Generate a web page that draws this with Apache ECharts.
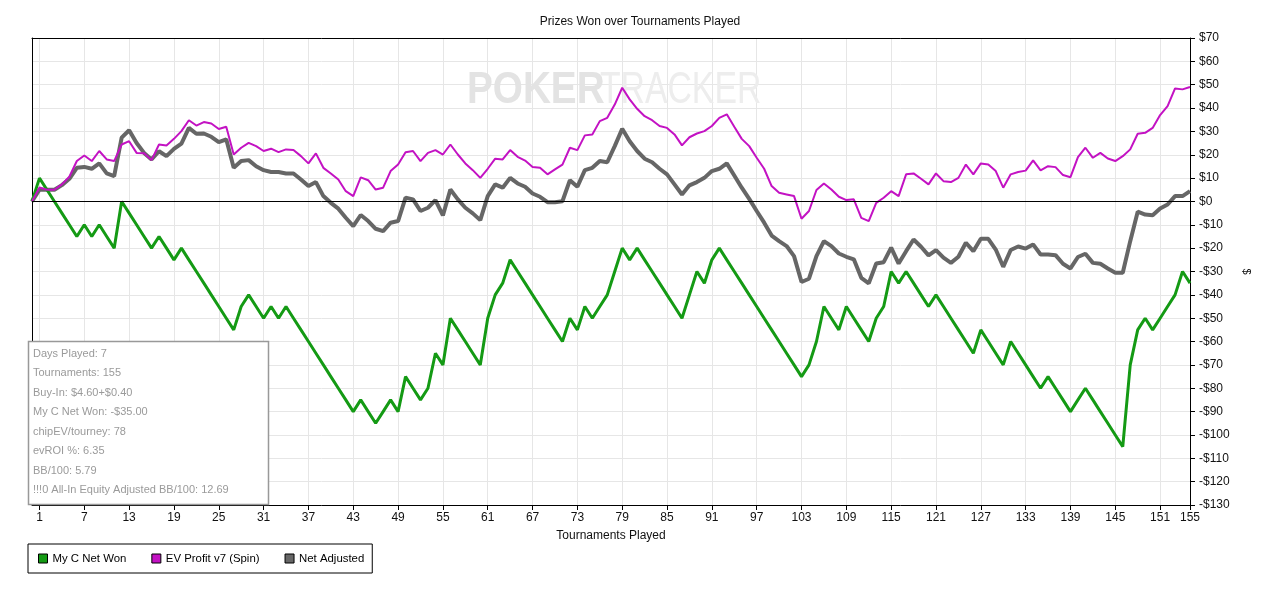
<!DOCTYPE html>
<html>
<head>
<meta charset="utf-8">
<title>Prizes Won over Tournaments Played</title>
<script src="https://cdn.jsdelivr.net/npm/echarts@6/dist/echarts.min.js"></script>
<style>
	html, body {margin: 0; padding: 0; background: #ffffff;}
	#chart {width: 1280px; height: 593px;}
</style>
</head>
<body>
<div id="chart"></div>
<script>
// tournament index 0..155 (0 = start point)
var tournaments = [];
for (var i = 0; i <= 155; i++) tournaments.push(String(i));

var netWon = [
	0, 10, 5, 0, -5, -10, -15, -10, -15, -10,
	-15, -20, 0, -5, -10, -15, -20, -15, -20, -25,
	-20, -25, -30, -35, -40, -45, -50, -55, -45, -40,
	-45, -50, -45, -50, -45, -50, -55, -60, -65, -70,
	-75, -80, -85, -90, -85, -90, -95, -90, -85, -90,
	-75, -80, -85, -80, -65, -70, -50, -55, -60, -65,
	-70, -50, -40, -35, -25, -30, -35, -40, -45, -50,
	-55, -60, -50, -55, -45, -50, -45, -40, -30, -20,
	-25, -20, -25, -30, -35, -40, -45, -50, -40, -30,
	-35, -25, -20, -25, -30, -35, -40, -45, -50, -55,
	-60, -65, -70, -75, -70, -60, -45, -50, -55, -45,
	-50, -55, -60, -50, -45, -30, -35, -30, -35, -40,
	-45, -40, -45, -50, -55, -60, -65, -55, -60, -65,
	-70, -60, -65, -70, -75, -80, -75, -80, -85, -90,
	-85, -80, -85, -90, -95, -100, -105, -70, -55, -50,
	-55, -50, -45, -40, -30, -35
];

var evProfit = [
	0, 6, 5, 5, 7.3, 10.6, 17.3, 19.7, 17.3, 21.6,
	18, 17.3, 24.4, 25.8, 20.8, 20.6, 17.7, 24.4, 24, 26.8,
	30.1, 34.8, 32.5, 34, 33.4, 31, 32, 20.1, 23, 25.1,
	23.7, 21.6, 22.6, 21.1, 22.3, 22, 19.4, 16.3, 20.6, 14.4,
	12, 9.4, 4.4, 2.3, 10.3, 9.1, 5.1, 5.9, 13, 15.8,
	21.1, 21.6, 17.3, 20.8, 22, 20.1, 24.4, 20.1, 16.3, 13.4,
	10.1, 14, 18.3, 18, 22, 19.1, 17.5, 14.8, 14.4, 11.6,
	13.7, 15.8, 23, 22, 28.3, 28.7, 34.4, 35.8, 41.5, 48.7,
	43.7, 39.7, 36.5, 34.8, 32.3, 31.5, 28.7, 24, 27.5, 29.1,
	30.1, 32.3, 35.8, 37.3, 32, 26.8, 23.7, 18.7, 14, 6.6,
	3.7, 3, 2.3, -7.4, -4.1, 4.9, 7.7, 5.1, 2, 0.6,
	0.9, -7, -8.4, -0.6, 1.6, 4.4, 2.3, 11.6, 12, 9.7,
	7.3, 12, 8.7, 8.3, 10.1, 15.8, 11.6, 16.3, 15.8, 13,
	5.9, 11.6, 12.6, 13.2, 17.6, 13.3, 15.1, 14.7, 11.3, 10.4,
	19, 23, 18.7, 20.8, 18.4, 17.3, 19.4, 22.3, 29, 29.4,
	31.5, 37, 40.8, 48.4, 48, 49
];

var netAdjusted = [
	0, 5, 5, 5, 7, 9.7, 14.4, 14.8, 14, 16.3,
	12, 10.8, 27.3, 30.5, 25, 20.8, 18, 21.5, 19.4, 22.5,
	24.8, 31.5, 29, 29.1, 27.7, 25.4, 26.6, 14.4, 17.3, 17.7,
	15.1, 13.4, 12.6, 12.6, 12, 12, 9.4, 6.6, 8.3, 2.3,
	-0.6, -3.1, -7, -10.6, -5.8, -8.4, -11.7, -12.7, -9.1, -8.4,
	1.6, 0.9, -4.1, -2.7, 0.6, -6, 5.1, 0.9, -2.7, -5.1,
	-8, 2.3, 7.3, 5.9, 10.1, 7.7, 6.3, 3.4, 2, -0.3,
	-0.3, 0.1, 9.1, 6.3, 13.4, 14.4, 17.3, 16.8, 23.7, 31.1,
	25.8, 21.6, 18.3, 16.8, 14, 11.6, 7.3, 3, 6.9, 8.3,
	10.1, 13, 14, 16.3, 11.1, 5.9, 1.1, -4.1, -9.1, -14.6,
	-17, -19.1, -23.4, -34.5, -33.1, -23.4, -17, -19.1, -22.3, -23.7,
	-24.8, -32.7, -35.1, -26.6, -26, -19.8, -26.6, -21.3, -16.3, -19.4,
	-23.1, -20.8, -24.1, -26.3, -23.7, -17.7, -21.3, -16, -16, -20.6,
	-28, -20.8, -19.3, -20.2, -18.4, -22.7, -22.7, -23, -26.7, -28.7,
	-23.8, -22.4, -26.3, -26.7, -28.7, -30.5, -30.5, -17, -4.4, -5.6,
	-5.9, -3, -1.3, 2.3, 2.3, 4.4
];

var statsLines = [
	'Days Played: 7',
	'Tournaments: 155',
	'Buy-In: $4.60+$0.40',
	'My C Net Won: -$35.00',
	'chipEV/tourney: 78',
	'evROI %: 6.35',
	'BB/100: 5.79',
	'!!!0 All-In Equity Adjusted BB/100: 12.69'
];

var fontName = '"Liberation Sans", Arial, sans-serif';

function showTick(index) {
	return (index - 1) % 6 === 0 || index === 155;
}

function money(v) {
	return v < 0 ? '-$' + Math.abs(v) : '$' + v;
}

var myChart = echarts.init(document.getElementById('chart'));
var option = {
	animation: false,
	backgroundColor: '#ffffff',
	textStyle: {fontFamily: fontName},
	title: {
		text: 'Prizes Won over Tournaments Played',
		left: 'center',
		top: 11,
		textStyle: {fontSize: 12, fontWeight: 'normal', color: '#111', fontFamily: fontName}
	},
	grid: {
		left: 32,
		right: 90,
		top: 38,
		bottom: 88,
		show: false
	},
	legend: {
		left: 28,
		top: 544,
		orient: 'horizontal',
		padding: [9, 8, 9, 10],
		itemGap: 25,
		itemWidth: 9,
		itemHeight: 9,
		icon: 'rect',
		borderColor: '#000',
		borderWidth: 1,
		selectedMode: false,
		itemStyle: {borderColor: '#000', borderWidth: 1},
		textStyle: {fontSize: 11.4, color: '#000', fontFamily: fontName},
		data: ['My C Net Won', 'EV Profit v7 (Spin)', 'Net Adjusted']
	},
	xAxis: [
		{
			type: 'category',
			data: tournaments,
			boundaryGap: false,
			name: 'Tournaments Played',
			nameLocation: 'middle',
			nameGap: 25,
			nameTextStyle: {fontSize: 12, color: '#111'},
			axisLine: {onZero: false, lineStyle: {color: '#000', width: 1}},
			axisTick: {show: true, interval: showTick, length: 5, lineStyle: {color: '#000'}},
			axisLabel: {
				interval: showTick,
				fontSize: 12,
				color: '#111',
				margin: 7
			},
			splitLine: {show: true, interval: showTick, lineStyle: {color: '#e6e6e6', width: 1}}
		},
		{
			// plain top frame line
			type: 'category',
			position: 'top',
			data: tournaments,
			boundaryGap: false,
			axisLine: {onZero: false, lineStyle: {color: '#000', width: 1}},
			axisTick: {show: false},
			axisLabel: {show: false},
			splitLine: {show: false}
		}
	],
	yAxis: [
		{
			type: 'value',
			position: 'right',
			min: -130,
			max: 70,
			interval: 10,
			name: '$',
			nameLocation: 'middle',
			nameGap: 50,
			nameRotate: -90,
			nameTextStyle: {fontSize: 11, color: '#111'},
			axisLine: {show: true, onZero: false, lineStyle: {color: '#000', width: 1}},
			axisTick: {show: true, length: 5, lineStyle: {color: '#000'}},
			axisLabel: {
				fontSize: 12,
				color: '#111',
				margin: 9,
				formatter: money
			},
			splitLine: {show: true, lineStyle: {color: '#e6e6e6', width: 1}}
		},
		{
			// plain left frame line
			type: 'value',
			position: 'left',
			min: -130,
			max: 70,
			interval: 10,
			axisLine: {show: true, onZero: false, lineStyle: {color: '#000', width: 1}},
			axisTick: {show: false},
			axisLabel: {show: false},
			splitLine: {show: false}
		}
	],
	series: [
		{
			name: 'My C Net Won',
			type: 'line',
			data: netWon,
			symbol: 'none',
			z: 3,
			color: '#149a14',
			lineStyle: {color: '#149a14', width: 3},
			markLine: {
				silent: true,
				symbol: 'none',
				label: {show: false},
				lineStyle: {color: '#000', width: 1, type: 'solid'},
				data: [{yAxis: 0}]
			}
		},
		{
			name: 'EV Profit v7 (Spin)',
			type: 'line',
			data: evProfit,
			symbol: 'none',
			z: 4,
			color: '#c312c3',
			lineStyle: {color: '#c312c3', width: 2}
		},
		{
			name: 'Net Adjusted',
			type: 'line',
			data: netAdjusted,
			symbol: 'none',
			z: 2,
			color: '#666666',
			lineStyle: {color: '#666666', width: 4}
		}
	],
	graphic: [
		{
			type: 'text',
			x: 467,
			y: 68,
			scaleX: 0.86,
			z: 1,
			silent: true,
			style: {text: 'POKER', font: 'bold 45px ' + fontName, fill: '#e3e3e3'}
		},
		{
			type: 'text',
			x: 600,
			y: 68,
			scaleX: 0.75,
			z: 1,
			silent: true,
			style: {text: 'TRACKER', font: '45px ' + fontName, fill: '#ededed'}
		},
		{
			type: 'rect',
			z: 100,
			silent: true,
			shape: {x: 28.5, y: 341.5, width: 240, height: 163},
			style: {fill: '#ffffff', stroke: '#999999', lineWidth: 1.5}
		},
		{
			type: 'text',
			z: 101,
			silent: true,
			x: 33,
			y: 344,
			style: {
				text: statsLines.join('\n'),
				font: '11px ' + fontName,
				fill: '#9a9a9a',
				lineHeight: 19.5
			}
		}
	]
};
myChart.setOption(option);
</script>
</body>
</html>
